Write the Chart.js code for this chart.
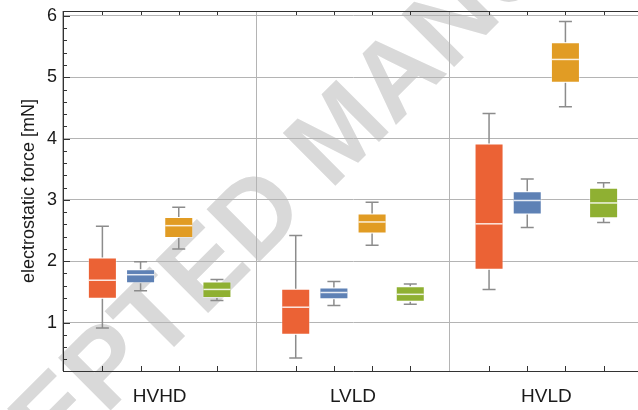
<!DOCTYPE html>
<html>
<head>
<meta charset="utf-8">
<script src="https://cdn.jsdelivr.net/npm/chart.js@4.4.1/dist/chart.umd.min.js"></script>
<style>
  html, body { margin: 0; padding: 0; background: #fff; overflow: hidden; }
  #wrap { width: 643px; height: 410px; }
</style>
</head>
<body>
<div id="wrap"><canvas id="myChart" width="643" height="410"></canvas></div>
<script>
// groups on the x axis
const groups = ['HVHD', 'LVLD', 'HVLD'];
const seriesNames = ['series 1', 'series 2', 'series 3', 'series 4'];
const seriesColors = ['#EB6235', '#5E81B5', '#E19C24', '#8FB032'];

// box plot statistics, one row per series, one value per group
const whiskerLow = [
    [0.91, 0.42, 1.54],
    [1.52, 1.28, 2.55],
    [2.20, 2.26, 4.52],
    [1.36, 1.30, 2.63]
];
const q1 = [
    [1.39, 0.80, 1.86],
    [1.64, 1.38, 2.76],
    [2.38, 2.45, 4.91],
    [1.40, 1.34, 2.70]
];
const median = [
    [1.69, 1.25, 2.61],
    [1.78, 1.49, 2.99],
    [2.58, 2.64, 5.29],
    [1.54, 1.46, 2.95]
];
const q3 = [
    [2.06, 1.55, 3.92],
    [1.87, 1.57, 3.14],
    [2.72, 2.78, 5.57],
    [1.67, 1.59, 3.20]
];
const whiskerHigh = [
    [2.57, 2.42, 4.41],
    [1.99, 1.67, 3.34],
    [2.88, 2.96, 5.91],
    [1.70, 1.63, 3.28]
];

const yTicks = [1, 2, 3, 4, 5, 6];
const yMinorStep = 0.2;

const boxPlugin = {
    id: 'boxPlugin',
    beforeDraw(chart) {
        // watermark behind everything
        const ctx = chart.ctx;
        ctx.save();
        ctx.translate(-111, 632);
        ctx.rotate(-Math.PI / 4);
        ctx.font = 'bold 108px "Liberation Sans", Arial, sans-serif';
        ctx.fillStyle = '#d9d9d9';
        ctx.fillText('ACCEPTED MANUSCRIPT', 0, 0);
        ctx.restore();
    },
    beforeDatasetsDraw(chart) {
        const ctx = chart.ctx;
        const y = chart.scales.y;
        ctx.save();
        ctx.strokeStyle = '#8c8c8c';
        ctx.lineWidth = 1.5;
        chart.data.datasets.forEach((ds, i) => {
            chart.getDatasetMeta(i).data.forEach((bar, j) => {
                const x = bar.x;
                const lo = y.getPixelForValue(whiskerLow[i][j]);
                const hi = y.getPixelForValue(whiskerHigh[i][j]);
                const b1 = y.getPixelForValue(q1[i][j]);
                const b3 = y.getPixelForValue(q3[i][j]);
                ctx.beginPath();
                ctx.moveTo(x, b1); ctx.lineTo(x, lo);
                ctx.moveTo(x - 6.5, lo); ctx.lineTo(x + 6.5, lo);
                ctx.moveTo(x, b3); ctx.lineTo(x, hi);
                ctx.moveTo(x - 6.5, hi); ctx.lineTo(x + 6.5, hi);
                ctx.stroke();
            });
        });
        ctx.restore();
    },
    afterDatasetsDraw(chart) {
        const ctx = chart.ctx;
        const y = chart.scales.y;
        const area = chart.chartArea;
        ctx.save();
        // medians
        ctx.strokeStyle = 'rgba(255,255,255,0.85)';
        ctx.lineWidth = 1.5;
        chart.data.datasets.forEach((ds, i) => {
            chart.getDatasetMeta(i).data.forEach((bar, j) => {
                const m = y.getPixelForValue(median[i][j]);
                ctx.beginPath();
                ctx.moveTo(bar.x - bar.width / 2 + 1, m);
                ctx.lineTo(bar.x + bar.width / 2 - 1, m);
                ctx.stroke();
            });
        });
        // frame top line and tick marks
        ctx.strokeStyle = '#333';
        ctx.lineWidth = 1;
        ctx.beginPath();
        ctx.moveTo(area.left, area.top + 0.5);
        ctx.lineTo(area.right, area.top + 0.5);
        chart.getDatasetMeta(0).data.forEach((_, j) => {
            chart.data.datasets.forEach((ds, i) => {
                const x = Math.round(chart.getDatasetMeta(i).data[j].x) + 0.5;
                ctx.moveTo(x, area.bottom); ctx.lineTo(x, area.bottom - 5);
                ctx.moveTo(x, area.top); ctx.lineTo(x, area.top + 4);
            });
        });
        for (let v = 0.4; v <= 6.01; v += yMinorStep) {
            const py = Math.round(y.getPixelForValue(v)) + 0.5;
            const major = Math.abs(v - Math.round(v)) < 0.01;
            ctx.moveTo(area.left, py);
            ctx.lineTo(area.left + (major ? 7 : 4), py);
        }
        ctx.stroke();
        ctx.restore();
    }
};

new Chart(document.getElementById('myChart'), {
    type: 'bar',
    data: {
        labels: groups,
        datasets: seriesNames.map((name, i) => ({
            label: name,
            data: q1[i].map((v, j) => [v, q3[i][j]]),
            backgroundColor: seriesColors[i],
            borderColor: 'rgba(255,255,255,0.35)',
            borderWidth: 1,
            borderSkipped: false,
            categoryPercentage: 0.79,
            barPercentage: 0.76
        }))
    },
    options: {
        responsive: false,
        animation: false,
        devicePixelRatio: 1,
        layout: { padding: { top: 11, left: 0, right: 0, bottom: 0 } },
        plugins: { legend: { display: false }, tooltip: { enabled: false } },
        scales: {
            x: {
                grid: { offset: true, color: '#b4b4b4', drawTicks: false },
                border: { color: '#333' },
                ticks: {
                    color: '#1a1a1a',
                    padding: 14,
                    font: { family: '"Liberation Sans", Arial, sans-serif', size: 19 }
                },
                afterFit: s => { s.height = 39; }
            },
            y: {
                min: 0.21,
                max: 6.08,
                afterBuildTicks: s => { s.ticks = yTicks.map(v => ({ value: v })); },
                grid: { color: '#b4b4b4', drawTicks: false },
                border: { color: '#333' },
                ticks: {
                    color: '#1a1a1a',
                    padding: 6,
                    font: { family: '"Liberation Sans", Arial, sans-serif', size: 18 }
                },
                title: {
                    display: true,
                    text: 'electrostatic force [mN]',
                    color: '#1a1a1a',
                    padding: { top: 18, bottom: 0 },
                    font: { family: '"Liberation Sans", Arial, sans-serif', size: 18 }
                },
                afterFit: s => {
                    s.width = 63;
                    s.paddingTop = 0;
                    s.paddingBottom = 0;
                }
            }
        }
    },
    plugins: [boxPlugin]
});
</script>
</body>
</html>
